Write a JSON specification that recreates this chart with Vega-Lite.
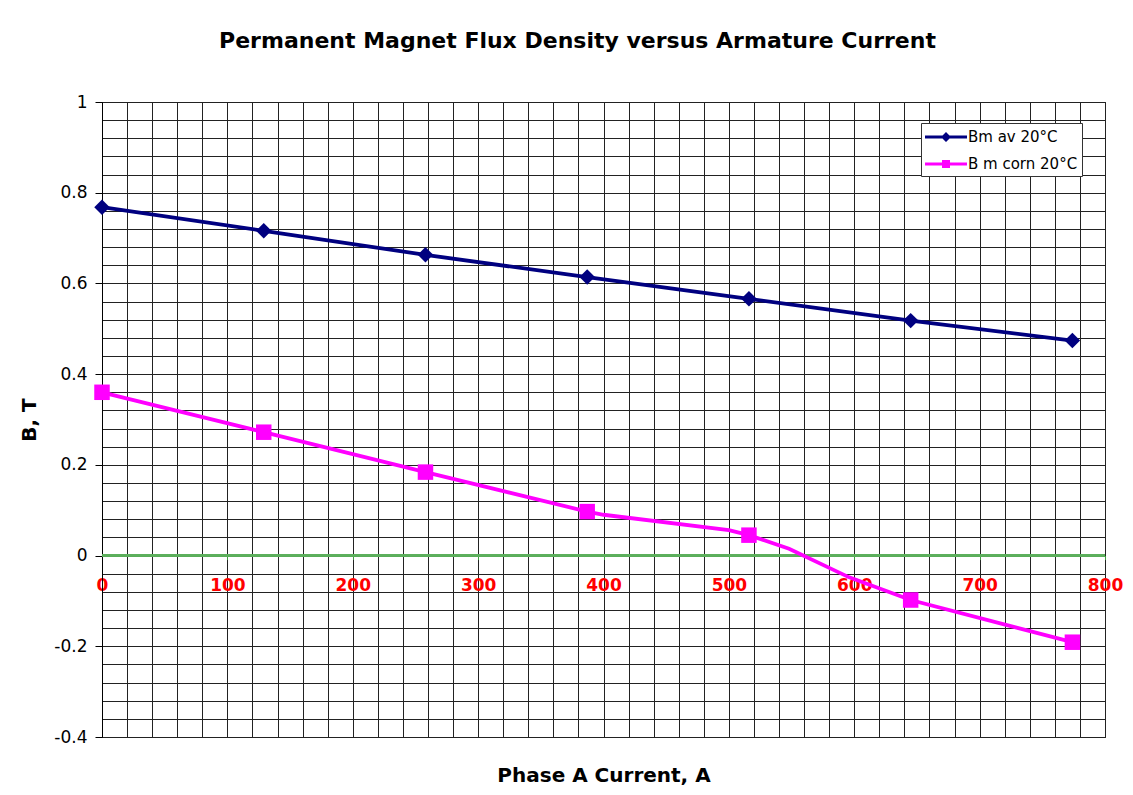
{
  "$schema": "https://vega.github.io/schema/vega-lite/v6.json",
  "autosize": {"type": "none"},
  "padding": {"left": 102, "top": 102, "right": 28, "bottom": 58},
  "width": 1003,
  "height": 635,
  "background": "#FFFFFF",
  "config": {
    "font": "DejaVu Sans",
    "view": {"stroke": "#000000", "strokeWidth": 1}
  },
  "title": {
    "text": "Permanent Magnet Flux Density versus Armature Current",
    "font": "DejaVu Sans",
    "fontSize": 22,
    "fontWeight": "bold",
    "color": "#000000",
    "anchor": "middle",
    "frame": "group",
    "dx": -26,
    "offset": 40
  },
  "data": {
    "values": [
      {"series": "Bm av 20°C", "I": 0, "B": 0.768},
      {"series": "Bm av 20°C", "I": 129, "B": 0.716},
      {"series": "Bm av 20°C", "I": 258, "B": 0.663},
      {"series": "Bm av 20°C", "I": 387, "B": 0.614},
      {"series": "Bm av 20°C", "I": 516, "B": 0.566},
      {"series": "Bm av 20°C", "I": 645, "B": 0.518},
      {"series": "Bm av 20°C", "I": 774, "B": 0.474},
      {"series": "B m corn 20°C", "I": 0, "B": 0.36},
      {"series": "B m corn 20°C", "I": 129, "B": 0.272},
      {"series": "B m corn 20°C", "I": 258, "B": 0.184},
      {"series": "B m corn 20°C", "I": 387, "B": 0.097},
      {"series": "B m corn 20°C", "I": 400, "B": 0.09},
      {"series": "B m corn 20°C", "I": 500, "B": 0.056},
      {"series": "B m corn 20°C", "I": 516, "B": 0.045},
      {"series": "B m corn 20°C", "I": 548, "B": 0.015},
      {"series": "B m corn 20°C", "I": 596, "B": -0.048},
      {"series": "B m corn 20°C", "I": 645, "B": -0.098},
      {"series": "B m corn 20°C", "I": 774, "B": -0.191}
    ]
  },
  "encoding": {
    "x": {
      "field": "I",
      "type": "quantitative",
      "scale": {"domain": [0, 800], "nice": false, "zero": false},
      "axis": {
        "title": "Phase A Current, A",
        "titleFont": "DejaVu Sans",
        "titleFontSize": 20,
        "titleFontWeight": "bold",
        "titleColor": "#000000",
        "titleBaseline": "alphabetic",
        "titleY": 226,
        "offset": -181.4,
        "domain": false,
        "values": [0, 20, 40, 60, 80, 100, 120, 140, 160, 180, 200, 220, 240, 260, 280, 300, 320, 340, 360, 380, 400, 420, 440, 460, 480, 500, 520, 540, 560, 580, 600, 620, 640, 660, 680, 700, 720, 740, 760, 780, 800],
        "labelExpr": "datum.value % 100 === 0 ? format(datum.value, 'd') : ''",
        "labelOverlap": false,
        "labelFlush": false,
        "labelBound": false,
        "labelColor": "#FF0000",
        "labelFont": "DejaVu Sans",
        "labelFontWeight": "bold",
        "labelFontSize": 17,
        "labelBaseline": "top",
        "labelPadding": 18,
        "ticks": true,
        "tickSize": 4,
        "tickColor": "#3C9A3C",
        "tickWidth": 1,
        "tickOpacity": {"condition": {"test": "datum.value % 100 === 0", "value": 1}, "value": 0},
        "grid": true,
        "gridColor": "#222222",
        "gridWidth": 1,
        "gridOpacity": 1
      }
    },
    "y": {
      "field": "B",
      "type": "quantitative",
      "scale": {"domain": [-0.4, 1], "nice": false, "zero": false},
      "axis": {
        "title": "B, T",
        "titleFont": "DejaVu Sans",
        "titleFontSize": 20,
        "titleFontWeight": "bold",
        "titleColor": "#000000",
        "titleAngle": -90,
        "titleAlign": "center",
        "titleBaseline": "middle",
        "titleX": -73,
        "titleY": 317.5,
        "values": [-0.4, -0.36, -0.32, -0.28, -0.24, -0.2, -0.16, -0.12, -0.08, -0.04, 0, 0.04, 0.08, 0.12, 0.16, 0.2, 0.24, 0.28, 0.32, 0.36, 0.4, 0.44, 0.48, 0.52, 0.56, 0.6, 0.64, 0.68, 0.72, 0.76, 0.8, 0.84, 0.88, 0.92, 0.96, 1],
        "labelExpr": "abs(datum.value * 5 - round(datum.value * 5)) < 0.000001 ? replace(format(datum.value, '~g'), '\u2212', '-') : ''",
        "labelOverlap": false,
        "labelFlush": false,
        "labelBound": false,
        "labelColor": "#000000",
        "labelFont": "DejaVu Sans",
        "labelFontSize": 17,
        "labelPadding": 8,
        "domain": true,
        "domainColor": "#000000",
        "domainWidth": 1,
        "ticks": true,
        "tickSize": 7,
        "tickColor": "#000000",
        "tickWidth": 1,
        "tickOpacity": {"condition": {"test": "abs(datum.value * 5 - round(datum.value * 5)) < 0.000001", "value": 1}, "value": 0},
        "grid": true,
        "gridColor": "#222222",
        "gridWidth": 1,
        "gridOpacity": 1
      }
    }
  },
  "layer": [
    {
      "mark": {"type": "rule", "color": "#5DAE5D", "strokeWidth": 1.5},
      "encoding": {"y": {"datum": 0}, "x": {"value": 0}, "x2": {"value": 1003}}
    },
    {
      "transform": [{"filter": "datum.series === 'Bm av 20°C'"}],
      "mark": {"type": "line", "strokeWidth": 3.8, "color": "#000080"}
    },
    {
      "transform": [{"filter": "datum.series === 'B m corn 20°C'"}],
      "mark": {"type": "line", "strokeWidth": 3.8, "color": "#FF00FF"}
    },
    {
      "transform": [{"filter": "datum.series === 'Bm av 20°C'"}],
      "mark": {"type": "point", "shape": "diamond", "filled": true, "size": 240, "opacity": 1, "color": "#000080"}
    },
    {
      "transform": [{"filter": "datum.series === 'B m corn 20°C' && indexof([0, 129, 258, 387, 516, 645, 774], datum.I) >= 0"}],
      "mark": {"type": "square", "filled": true, "size": 240, "opacity": 1, "color": "#FF00FF"}
    },
    {
      "transform": [{"filter": "false"}],
      "mark": {"type": "point", "filled": true, "opacity": 1},
      "encoding": {
        "color": {
          "field": "series",
          "type": "nominal",
          "scale": {"domain": ["Bm av 20°C", "B m corn 20°C"], "range": ["#000080", "#FF00FF"]},
          "legend": {
            "title": null,
            "orient": "none",
            "legendX": 819,
            "legendY": 21,
            "zindex": 5,
            "padding": 4,
            "fillColor": "#FFFFFF",
            "strokeColor": "#333333",
            "symbolSize": 400,
            "symbolStrokeWidth": 0,
            "symbolOpacity": 1,
            "labelOffset": 23,
            "labelFont": "DejaVu Sans",
            "labelFontSize": 15,
            "labelColor": "#000000",
            "rowPadding": 9
          }
        },
        "shape": {
          "field": "series",
          "type": "nominal",
          "scale": {
            "domain": ["Bm av 20°C", "B m corn 20°C"],
            "range": [
              "M-1,-0.14H3.2V0.14H-1ZM1.1,-0.5L1.6,0L1.1,0.5L0.6,0Z",
              "M-1,-0.14H3.2V0.14H-1ZM0.7,-0.4H1.5V0.4H0.7Z"
            ]
          },
          "legend": {
            "title": null,
            "orient": "none",
            "legendX": 819,
            "legendY": 21,
            "zindex": 5,
            "padding": 4,
            "fillColor": "#FFFFFF",
            "strokeColor": "#333333",
            "symbolSize": 400,
            "symbolStrokeWidth": 0,
            "symbolOpacity": 1,
            "labelOffset": 23,
            "labelFont": "DejaVu Sans",
            "labelFontSize": 15,
            "labelColor": "#000000",
            "rowPadding": 9
          }
        }
      }
    }
  ]
}
